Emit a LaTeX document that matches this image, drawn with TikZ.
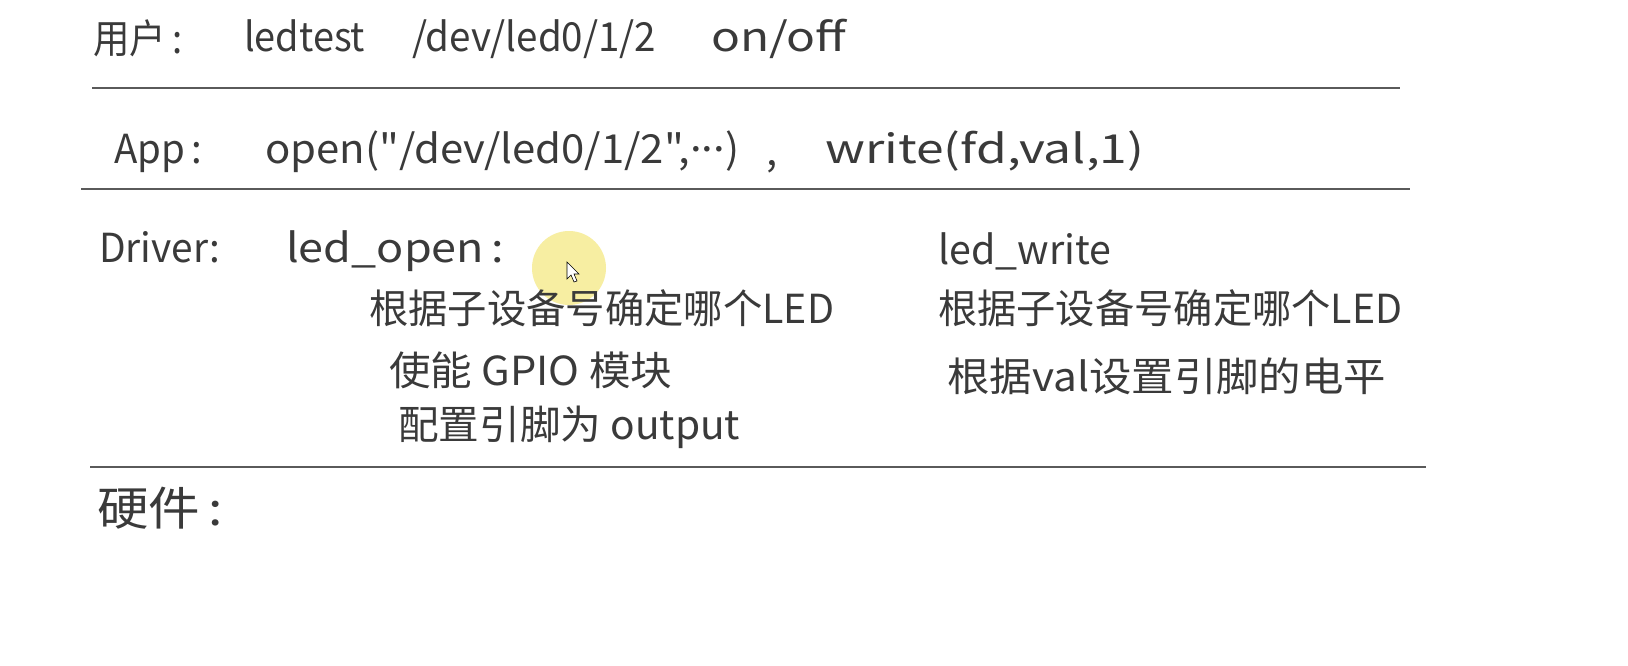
\documentclass[tikz,border=0pt]{standalone}
\usepackage{fontspec}
\usepackage{graphicx}
\newfontfamily\cjk{Noto Sans CJK SC}
\definecolor{ink}{HTML}{3A3A3A}
\definecolor{rulec}{HTML}{5A5A5A}
\definecolor{hl}{HTML}{F7EEA2}
\newcommand{\fw}[2]{\resizebox{#1pt}{\height}{#2}}
\begin{document}
\begin{tikzpicture}[x=1pt,y=-1pt,
  lat/.style={inner sep=0pt, anchor=base west, text=ink, font=\cjk\fontsize{40}{48}\selectfont},
  zh/.style={inner sep=0pt, anchor=west, text=ink, font=\cjk\fontsize{40}{48}\selectfont},
  rulel/.style={draw=rulec, line width=1.8pt}]
\useasboundingbox (0,0) rectangle (1628,666);
\fill[white] (0,0) rectangle (1628,666);
% cursor highlight
\fill[hl] (569,268) circle (37);
\filldraw[fill=white, draw=black, line width=0.6pt] (567,262) -- ++(0,17) -- ++(4,-4) -- ++(3,7) -- ++(3,-1) -- ++(-3,-7) -- ++(5,0) -- cycle;
% row 1
\node[zh] (yh) at (93,38) {\fw{89}{用户\,:}};
\node[lat] (cmd) at (244,52) {\fw{121}{ledtest}};
\node[lat] (dev) at (412,52) {\fw{244}{/dev/led0/1/2}};
\node[lat] (onoff) at (711,52) {\fw{135}{on/off}};
% row 2
\node[lat] (app) at (114,164) {\fw{88}{App\,:}};
\node[lat] (open) at (265,164) {\fw{474}{open("/dev/led0/1/2",\raisebox{0.3em}{...})}};
\node[lat] (comma) at (766,166) {,};
\node[lat] (write) at (825,164) {\fw{319}{write(fd,val,1)}};
% row 3
\node[lat] (drv) at (99,262) {\fw{121}{Driver:}};
\node[lat] (lopen) at (286,262) {\fw{218}{led\_open\,:}};
\node[lat] (lwrite) at (938,264) {\fw{173}{led\_write}};
\node[zh] (o1) at (369,308) {\fw{465}{根据子设备号确定哪个LED}};
\node[zh] (o2) at (389,370) {\fw{283}{使能 GPIO 模块}};
\node[zh] (o3) at (398,427) {\fw{342}{配置引脚为 output}};
\node[zh] (w1) at (938,308) {\fw{464}{根据子设备号确定哪个LED}};
\node[zh] (w2) at (947,376) {\fw{439}{根据val设置引脚的电平}};
% row 4
\node[zh, font=\cjk\fontsize{46}{52}\selectfont] (hw) at (97,508) {\fw{126}{硬件\,:}};
% rules
\coordinate (l1a) at (92,88);  \coordinate (l1b) at (1400,88);
\coordinate (l2a) at (81,189); \coordinate (l2b) at (1410,189);
\coordinate (l3a) at (90,467); \coordinate (l3b) at (1426,467);
\draw[rulel] (l1a) -- (l1b);
\draw[rulel] (l2a) -- (l2b);
\draw[rulel] (l3a) -- (l3b);
\end{tikzpicture}
\end{document}
